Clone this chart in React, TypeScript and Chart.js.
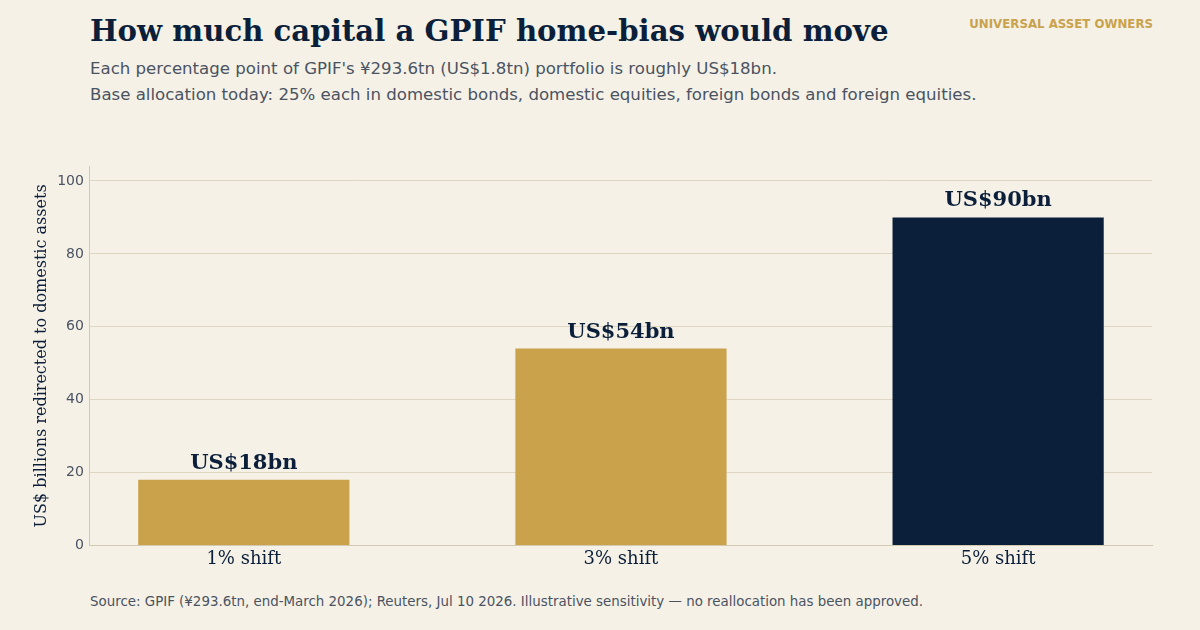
import React, { useEffect, useRef } from "react";
import { Chart, registerables } from "chart.js";

Chart.register(...registerables);

const categories = ["1% shift", "3% shift", "5% shift"];
const values = [18, 54, 90];
const valueLabels = ["US$18bn", "US$54bn", "US$90bn"];
const barColors = ["#C9A24B", "#C9A24B", "#0B1F3A"];
const yTicks = [0, 20, 40, 60, 80, 100];
const xPositions = [0, 1, 2];

const BG = "#F5F1E7";
const NAVY = "#0B1F3A";
const GOLD = "#C9A24B";
const GREY = "#4A5362";

const labelPlugin = {
  id: "valueLabels",
  afterDatasetsDraw(chart: any) {
    const ctx = chart.ctx;
    const meta = chart.getDatasetMeta(0);
    ctx.save();
    ctx.font = "bold 21px 'DejaVu Serif'";
    ctx.fillStyle = NAVY;
    ctx.textAlign = "center";
    ctx.textBaseline = "bottom";
    meta.data.forEach((bar: any, i: number) => {
      ctx.fillText(valueLabels[i], bar.x, bar.y - 6);
    });
    ctx.restore();
  },
};

export default function App() {
  const ref = useRef<HTMLCanvasElement>(null);
  useEffect(() => {
    const chart = new Chart(ref.current!, {
      type: "bar",
      data: {
        datasets: [
          {
            data: xPositions.map((x, i) => ({ x, y: values[i] })),
            backgroundColor: barColors,
            barPercentage: 0.56,
            categoryPercentage: 1,
          },
        ],
      },
      options: {
        animation: false,
        responsive: false,
        maintainAspectRatio: false,
        layout: { padding: { left: 32, right: 48, top: 0, bottom: 0 } },
        plugins: { legend: { display: false }, tooltip: { enabled: false } },
        scales: {
          x: {
            type: "linear",
            min: -0.408,
            max: 2.408,
            offset: false,
            afterBuildTicks: (axis: any) => {
              axis.ticks = xPositions.map((v) => ({ value: v }));
            },
            grid: { display: true, drawOnChartArea: false, drawTicks: false },
            border: { color: "#D2C9B1" },
            ticks: {
              color: NAVY,
              font: { family: "'DejaVu Serif'", size: 18 },
              padding: 3,
              callback: (v: any) => categories[Math.round(Number(v))],
            },
          },
          y: {
            min: 0,
            max: 104,
            afterBuildTicks: (axis: any) => {
              axis.ticks = yTicks.map((v) => ({ value: v }));
            },
            grid: { color: "#DED6C0", drawTicks: false },
            border: { color: "#D2C9B1" },
            ticks: { color: GREY, font: { family: "'DejaVu Sans'", size: 14 }, padding: 6 },
            title: {
              display: true,
              text: "US$ billions redirected to domestic assets",
              color: NAVY,
              font: { family: "'DejaVu Serif'", size: 16 },
              padding: { top: 0, bottom: 0 },
            },
          },
        },
      },
      plugins: [labelPlugin],
    });
    return () => chart.destroy();
  }, []);

  return (
    <div style={{ position: "fixed", left: 0, top: 0, width: 1200, height: 630, background: BG, overflow: "hidden" }}>
      <div style={{ position: "absolute", left: 90, top: 14, font: "bold 29.2px 'DejaVu Serif'", color: NAVY, whiteSpace: "nowrap" }}>
        How much capital a GPIF home-bias would move
      </div>
      <div style={{ position: "absolute", right: 47, top: 17, font: "bold 11.8px 'DejaVu Sans'", color: GOLD, whiteSpace: "nowrap" }}>
        UNIVERSAL ASSET OWNERS
      </div>
      <div style={{ position: "absolute", left: 90, top: 56, font: "16.6px 'DejaVu Sans'", color: GREY, lineHeight: "26px", whiteSpace: "nowrap" }}>
        <div>Each percentage point of GPIF's ¥293.6tn (US$1.8tn) portfolio is roughly US$18bn.</div>
        <div>Base allocation today: 25% each in domestic bonds, domestic equities, foreign bonds and foreign equities.</div>
      </div>
      <canvas ref={ref} width={1200} height={421} style={{ position: "absolute", left: 0, top: 152, width: 1200, height: 421 }} />
      <div style={{ position: "absolute", left: 90, top: 594, font: "13.4px 'DejaVu Sans'", color: GREY, whiteSpace: "nowrap" }}>
        Source: GPIF (¥293.6tn, end-March 2026); Reuters, Jul 10 2026. Illustrative sensitivity — no reallocation has been approved.
      </div>
    </div>
  );
}
